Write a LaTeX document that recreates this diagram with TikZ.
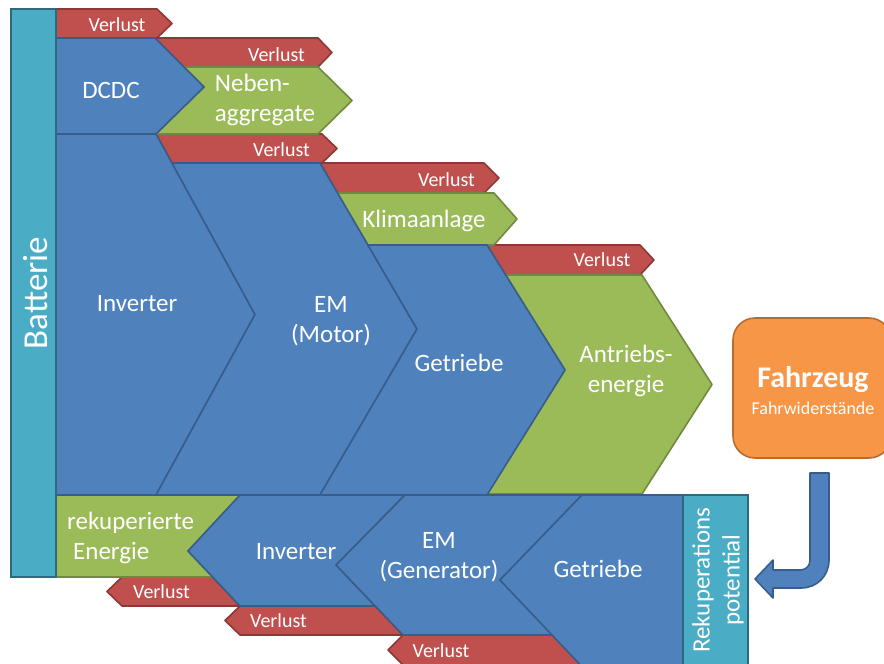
\documentclass[tikz,border=0pt]{standalone}
\usepackage{fontspec}
\setmainfont{Carlito}
\usepackage{xcolor}
\usepackage{tikz}

\definecolor{blu}{HTML}{4F81BD}
\definecolor{bluD}{HTML}{385D8A}
\definecolor{grn}{HTML}{9BBB59}
\definecolor{grnD}{HTML}{71893F}
\definecolor{rd}{HTML}{C0504D}
\definecolor{rdD}{HTML}{8C3836}
\definecolor{tl}{HTML}{4BACC6}
\definecolor{tlD}{HTML}{2B6A7C}
\definecolor{orn}{HTML}{F79646}
\definecolor{ornD}{HTML}{B66D31}

\begin{document}
\begin{tikzpicture}[x=1pt, y=-1pt,
  pB/.style={fill=blu, draw=bluD, line width=1.6pt, line join=round},
  pG/.style={fill=grn, draw=grnD, line width=1.6pt, line join=round},
  pR/.style={fill=rd, draw=rdD, line width=1.6pt, line join=round},
  pT/.style={fill=tl, draw=tlD, line width=1.6pt},
  tA/.style={text=white, inner sep=0pt, font=\fontsize{25}{30}\selectfont, align=center},
  tV/.style={text=white, inner sep=0pt, font=\fontsize{20}{24}\selectfont}]
  \useasboundingbox (0,0) rectangle (884,664);
  \clip (0,0) rectangle (884,664);

  % losses, upper row
  \draw[pR] (56,9) -- (157,9) -- (172,23.5) -- (157,38) -- (56,38) -- cycle;
  \draw[pR] (155,38) -- (318,38) -- (332,52.5) -- (318,67) -- (184,67) -- cycle;
  \draw[pR] (156,134) -- (322,134) -- (337,148.5) -- (322,163) -- (172,163) -- cycle;
  \draw[pR] (320,163) -- (484,163) -- (499,178) -- (484,193) -- (337.5,193) -- cycle;
  \draw[pR] (487,245) -- (640,245) -- (654,260) -- (640,275) -- (505.7,275) -- cycle;
  % losses, lower row
  \draw[pR] (212.6,577) -- (122,577) -- (107,591.5) -- (122,606) -- (240,606) -- cycle;
  \draw[pR] (375,606) -- (240,606) -- (225,620.5) -- (240,635) -- (403,635) -- cycle;
  \draw[pR] (552.4,635) -- (403,635) -- (388,650) -- (403,665) -- (581,665) -- cycle;

  % consumers and recovered energy
  \draw[pG] (184,67) -- (318,67) -- (352,100.5) -- (318,134) -- (156,134) -- (204,87) -- cycle;
  \draw[pG] (337.5,193) -- (494,193) -- (517,219) -- (494,245) -- (367.9,245) -- cycle;
  \draw[pG] (505.7,275) -- (642,275) -- (712,384.5) -- (642,494) -- (487,494) -- (565,370) -- cycle;
  \draw[pG] (56,495) -- (240,495) -- (188,551) -- (212.6,577) -- (56,577) -- cycle;

  % drive chain
  \draw[pB] (56,38) -- (155,38) -- (204,87) -- (156,134) -- (56,134) -- cycle;
  \draw[pB] (56,134) -- (156,134) -- (255,314.5) -- (156,495) -- (56,495) -- cycle;
  \draw[pB] (172,163) -- (320,163) -- (417,329) -- (320,495) -- (156,495) -- (255,314.5) -- cycle;
  \draw[pB] (367.9,245) -- (487,245) -- (565,370) -- (487,495) -- (320,495) -- (417,329) -- cycle;
  % recuperation chain
  \draw[pB] (240,495) -- (405,495) -- (336,565) -- (375,606) -- (240,606) -- (188,551) -- cycle;
  \draw[pB] (405,495) -- (582,495) -- (500,580) -- (552.4,635) -- (403,635) -- (336,565) -- cycle;
  \draw[pB] (582,495) -- (683,495) -- (683,672) -- (587,672) -- (500,580) -- cycle;

  \draw[pT] (683,495) rectangle (748,672);
  \draw[pT] (11,9) rectangle (56,577);

  \node[fill=orn, draw=ornD, line width=1.6pt, rounded corners=22pt,
        minimum width=158pt, minimum height=140pt] (fzg) at (812,388) {};
  \draw[pB] (810,473) -- (829,473) -- (829,560) .. controls (829,576) and (817,588) .. (801,588)
    -- (773,588) -- (773,598) -- (755,579) -- (773,560) -- (773,570) -- (800,570)
    .. controls (806,570) and (810,566) .. (810,560) -- cycle;

  % labels
  \node[tA] (dcdc) at (111,90) {DCDC};
  \node[tA, align=left] (neben) at (265,100) {Neben-\\aggregate};
  \node[tA] (invA) at (137,303.5) {Inverter};
  \node[tA] (emA) at (331,321) {EM\\(Motor)};
  \node[tA] (klima) at (424,221) {Klimaanlage};
  \node[tA] (getA) at (459,363) {Getriebe};
  \node[tA] (antr) at (626,371) {Antriebs-\\energie};
  \node[tA, align=left, anchor=west] (rekE) at (67,538) {rekuperierte\\\hspace*{6pt}Energie};
  \node[tA] (invB) at (296,552) {Inverter};
  \node[tA] (emB) at (439,557.5) {EM\\(Generator)};
  \node[tA] (getB) at (598,569) {Getriebe};
  \node[tA, rotate=90] (rekP) at (718,580) {Rekuperations\\potential};
  \node[tA, font=\fontsize{35}{40}\selectfont, rotate=90] (bat) at (35.5,293) {Batterie};
  \node[tA, font=\fontsize{30}{34}\selectfont\bfseries] (fzgA) at (813,380) {Fahrzeug};
  \node[tA, font=\fontsize{18}{22}\selectfont] (fzgB) at (813,408) {Fahrwiderstände};

  \foreach \p/\n in {(117,24.5)/v1,(276.5,54.5)/v2,(281.5,149.5)/v3,(446.5,179.5)/v4,
                     (602,260)/v5,(161.5,592)/v6,(278.5,620.5)/v7,(441,650.5)/v8}
    \node[tV] (\n) at \p {Verlust};
\end{tikzpicture}
\end{document}
